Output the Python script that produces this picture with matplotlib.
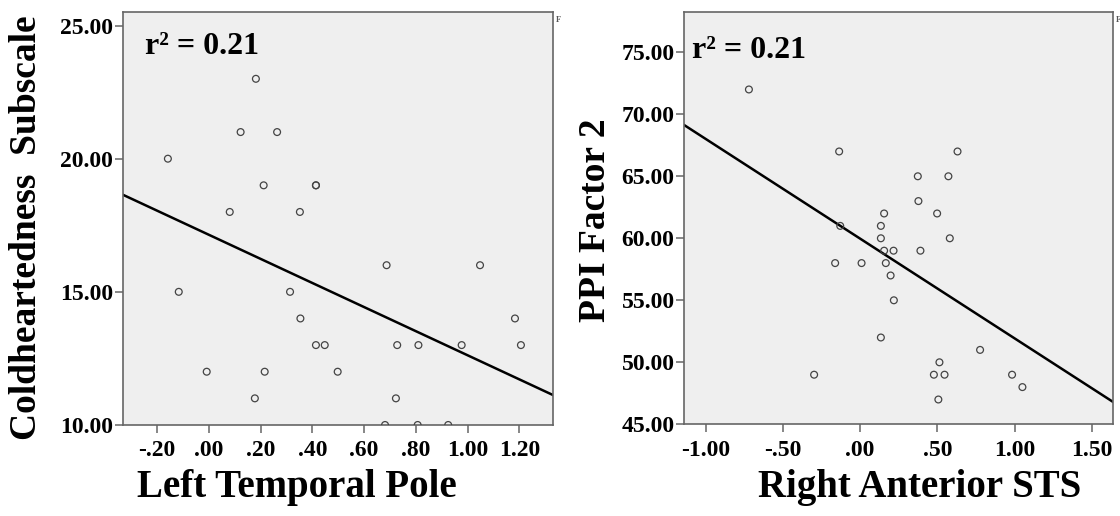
import numpy as np
import matplotlib
matplotlib.use("Agg")
import matplotlib.pyplot as plt

plt.rcParams['font.family'] = ['Liberation Serif', 'DejaVu Serif']
plt.rcParams['font.weight'] = 'bold'

# Left panel: Left Temporal Pole vs Coldheartedness Subscale
ltp_x = [0.182, 0.123, 0.264, -0.158, 0.212, 0.414, 0.414, 0.081, 0.352,
         0.687, 1.048, -0.116, 0.314, 0.354, 1.183, 0.414, 0.448, 0.728,
         0.810, 0.977, 1.206, -0.008, 0.216, 0.498, 0.178, 0.723, 0.681,
         0.807, 0.925]
cold_y = [23, 21, 21, 20, 19, 19, 19, 18, 18,
          16, 16, 15, 15, 14, 14, 13, 13, 13,
          13, 13, 13, 12, 12, 12, 11, 11, 10,
          10, 10]

# Right panel: Right Anterior STS vs PPI Factor 2
sts_x = [-0.720, -0.136, 0.630, 0.373, 0.571, 0.377, 0.155, 0.498, -0.129,
         0.134, 0.134, 0.580, 0.155, 0.216, 0.390, -0.162, 0.009, 0.166,
         0.197, 0.218, 0.134, 0.776, 0.513, -0.298, 0.477, 0.546, 0.983,
         1.050, 0.506]
ppi_y = [72, 67, 67, 65, 65, 63, 62, 62, 61,
         61, 60, 60, 59, 59, 59, 58, 58, 58,
         57, 55, 52, 51, 50, 49, 49, 49, 49,
         48, 47]

left_xticks = [-0.2, 0.0, 0.2, 0.4, 0.6, 0.8, 1.0, 1.2]
left_xticklabels = ['-.20', '.00', '.20', '.40', '.60', '.80', '1.00', '1.20']
left_yticks = [10, 15, 20, 25]
right_xticks = [-1.0, -0.5, 0.0, 0.5, 1.0, 1.5]
right_xticklabels = ['-1.00', '-.50', '.00', '.50', '1.00', '1.50']
right_yticks = [45, 50, 55, 60, 65, 70, 75]

r2_text = 'r² = 0.21'

BG = '#efefef'
SPINE = '#666666'


def draw_panel(ax, x, y, xlim, ylim, xticks, xticklabels, yticks,
               xlabel, ylabel, xlabel_pos, ylabel_pos, r2_pos):
    ax.set_facecolor(BG)
    ax.scatter(x, y, s=24, facecolors='none', edgecolors='#444444',
               linewidths=0.9, zorder=3)

    # least squares fit line across the whole axis
    slope, icpt = np.polyfit(x, y, 1)
    xs = np.array(xlim)
    ax.plot(xs, slope * xs + icpt, color='black', lw=1.8, zorder=2)

    ax.set_xlim(xlim)
    ax.set_ylim(ylim)
    ax.set_xticks(xticks)
    ax.set_xticklabels(xticklabels)
    ax.set_yticks(yticks)
    ax.set_yticklabels(['%.2f' % v for v in yticks])

    for sp in ax.spines.values():
        sp.set_color(SPINE)
        sp.set_linewidth(1.2)
    ax.tick_params(axis='both', direction='out', length=6, width=1.1,
                   color=SPINE, labelsize=17, labelcolor='black')
    ax.tick_params(axis='x', pad=5)
    ax.tick_params(axis='y', pad=1)
    for lab in ax.get_xticklabels() + ax.get_yticklabels():
        lab.set_fontweight('bold')

    ax.set_xlabel(xlabel, fontsize=28, fontweight='bold')
    ax.xaxis.set_label_coords(*xlabel_pos)
    ax.xaxis.label.set_va('center')
    ax.set_ylabel(ylabel, fontsize=27, fontweight='bold')
    ax.yaxis.set_label_coords(*ylabel_pos)
    ax.yaxis.label.set_va('center')

    ax.text(r2_pos[0], r2_pos[1], r2_text, transform=ax.transAxes,
            fontsize=23, fontweight='bold', ha='left', va='baseline')
    # cropped SPSS legend remnant
    ax.text(1.005, 0.99, 'F', transform=ax.transAxes, fontsize=6,
            color='#555555', ha='left', va='top')


fig = plt.figure(figsize=(11.2, 5.16), dpi=100)
ax1 = fig.add_axes([0.1098, 0.1764, 0.3842, 0.8004])
ax2 = fig.add_axes([0.6110, 0.1777, 0.3830, 0.7996])

draw_panel(ax1, ltp_x, cold_y, (-0.3315, 1.331), (10, 25.51),
           left_xticks, left_xticklabels, left_yticks,
           'Left Temporal Pole', 'Coldheartedness  Subscale',
           (0.404, -0.152), (-0.224, 0.477), (0.052, 0.898))
draw_panel(ax2, sts_x, ppi_y, (-1.138, 1.638), (45, 78.27),
           right_xticks, right_xticklabels, right_yticks,
           'Right Anterior STS', 'PPI Factor 2',
           (0.548, -0.152), (-0.208, 0.495), (0.017, 0.887))

fig.savefig('out.png', dpi=100)
